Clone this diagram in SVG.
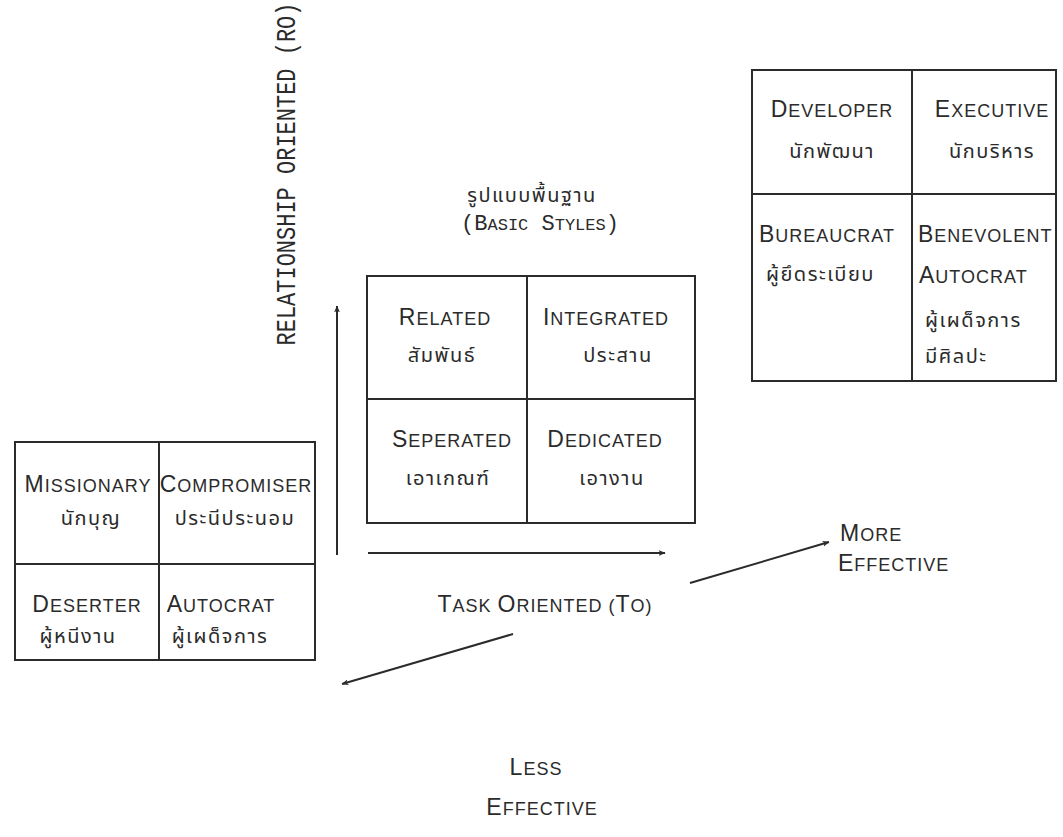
<svg xmlns="http://www.w3.org/2000/svg" width="1063" height="837" viewBox="0 0 1063 837">
<style>
.bg{fill:#ffffff}
.cell{fill:none;stroke:#2b2b2b;stroke-width:2}
.en{font-family:"Liberation Sans",Arial,sans-serif;font-size:18px;letter-spacing:1px;fill:#2b2b2b}
.en .b{font-size:23px}
.th{font-family:"Noto Sans Thai","Noto Sans","DejaVu Sans",sans-serif;font-size:20px;letter-spacing:1.5px;fill:#2b2b2b}
.mono{font-family:"Liberation Mono","DejaVu Sans Mono",monospace;font-size:22px;fill:#2b2b2b}
.conn{fill:none;stroke:#2b2b2b;stroke-width:2}
</style>
<defs>
<marker id="ah" viewBox="0 0 12 10" refX="11" refY="5" markerWidth="7" markerHeight="6" orient="auto" markerUnits="userSpaceOnUse">
<path d="M0,0 L12,5 L0,10 L3,5 z" fill="#2b2b2b"/>
</marker>
</defs>
<rect class="bg" x="0" y="0" width="1063" height="837"/>

<g id="rotated-label">
<text class="mono" transform="translate(295,174) rotate(-90) scale(1,1.22)" text-anchor="middle" font-size="19.4">RELATIONSHIP ORIENTED (RO)</text>
</g>

<g id="basic-styles-title">
<text class="th" x="532" y="202" text-anchor="middle">รูปแบบพื้นฐาน</text>
<text class="mono" x="540" y="230" text-anchor="middle" font-size="20">(B<tspan font-size="17">ASIC</tspan> S<tspan font-size="17">TYLES</tspan>)</text>
</g>

<!-- top-right grid -->
<g id="developer">
<rect class="cell" x="752" y="70" width="160" height="124"/>
<text class="en" x="832" y="117" text-anchor="middle"><tspan class="b">D</tspan>EVELOPER</text>
<text class="th" x="832" y="158" text-anchor="middle">นักพัฒนา</text>
</g>
<g id="executive">
<rect class="cell" x="912" y="70" width="144" height="124"/>
<text class="en" x="992" y="117" text-anchor="middle"><tspan class="b">E</tspan>XECUTIVE</text>
<text class="th" x="992" y="158" text-anchor="middle">นักบริหาร</text>
</g>
<g id="bureaucrat">
<rect class="cell" x="752" y="194" width="160" height="187"/>
<text class="en" x="759" y="242"><tspan class="b">B</tspan>UREAUCRAT</text>
<text class="th" x="766" y="281">ผู้ยึดระเบียบ</text>
</g>
<g id="benevolent-autocrat">
<rect class="cell" x="912" y="194" width="144" height="187"/>
<text class="en" x="918" y="242"><tspan class="b">B</tspan>ENEVOLENT</text>
<text class="en" x="919" y="283"><tspan class="b">A</tspan>UTOCRAT</text>
<text class="th" x="925" y="327">ผู้เผด็จการ</text>
<text class="th" x="925" y="363">มีศิลปะ</text>
</g>

<!-- center grid -->
<g id="related">
<rect class="cell" x="367" y="276" width="160" height="123"/>
<text class="en" x="445" y="325" text-anchor="middle"><tspan class="b">R</tspan>ELATED</text>
<text class="th" x="442" y="362" text-anchor="middle">สัมพันธ์</text>
</g>
<g id="integrated">
<rect class="cell" x="527" y="276" width="168" height="123"/>
<text class="en" x="606" y="325" text-anchor="middle"><tspan class="b">I</tspan>NTEGRATED</text>
<text class="th" x="618" y="362" text-anchor="middle">ประสาน</text>
</g>
<g id="seperated">
<rect class="cell" x="367" y="399" width="160" height="124"/>
<text class="en" x="452" y="447" text-anchor="middle"><tspan class="b">S</tspan>EPERATED</text>
<text class="th" x="448" y="485" text-anchor="middle">เอาเกณฑ์</text>
</g>
<g id="dedicated">
<rect class="cell" x="527" y="399" width="168" height="124"/>
<text class="en" x="605" y="447" text-anchor="middle"><tspan class="b">D</tspan>EDICATED</text>
<text class="th" x="612" y="485" text-anchor="middle">เอางาน</text>
</g>

<!-- left grid -->
<g id="missionary">
<rect class="cell" x="15" y="442" width="144" height="122"/>
<text class="en" x="88" y="492" text-anchor="middle"><tspan class="b">M</tspan>ISSIONARY</text>
<text class="th" x="91" y="525" text-anchor="middle">นักบุญ</text>
</g>
<g id="compromiser">
<rect class="cell" x="159" y="442" width="156" height="122"/>
<text class="en" x="236" y="492" text-anchor="middle"><tspan class="b">C</tspan>OMPROMISER</text>
<text class="th" x="235" y="525" text-anchor="middle">ประนีประนอม</text>
</g>
<g id="deserter">
<rect class="cell" x="15" y="564" width="144" height="96"/>
<text class="en" x="87" y="612" text-anchor="middle"><tspan class="b">D</tspan>ESERTER</text>
<text class="th" x="78" y="643" text-anchor="middle">ผู้หนีงาน</text>
</g>
<g id="autocrat">
<rect class="cell" x="159" y="564" width="156" height="96"/>
<text class="en" x="221" y="612" text-anchor="middle"><tspan class="b">A</tspan>UTOCRAT</text>
<text class="th" x="220" y="643" text-anchor="middle">ผู้เผด็จการ</text>
</g>

<g id="labels">
<text class="en" x="545" y="612" text-anchor="middle"><tspan class="b">T</tspan>ASK <tspan class="b">O</tspan>RIENTED (<tspan class="b">T</tspan>O)</text>
<text class="en" x="840" y="541"><tspan class="b">M</tspan>ORE</text>
<text class="en" x="838" y="571"><tspan class="b">E</tspan>FFECTIVE</text>
<text class="en" x="536" y="775" text-anchor="middle"><tspan class="b">L</tspan>ESS</text>
<text class="en" x="542" y="815" text-anchor="middle"><tspan class="b">E</tspan>FFECTIVE</text>
</g>

<g id="connectors">
<line class="conn" x1="337" y1="555" x2="337" y2="306" marker-end="url(#ah)"/>
<line class="conn" x1="368" y1="553" x2="665" y2="553" marker-end="url(#ah)"/>
<line class="conn" x1="690" y1="583" x2="829" y2="542" marker-end="url(#ah)"/>
<line class="conn" x1="513" y1="634" x2="342" y2="684" marker-end="url(#ah)"/>
</g>
</svg>
